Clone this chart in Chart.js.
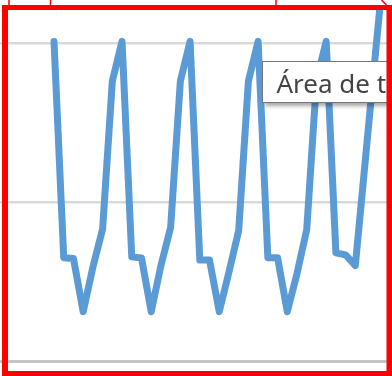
<!DOCTYPE html>
<html><head><meta charset="utf-8">
<script src="https://cdn.jsdelivr.net/npm/chart.js@4"></script>
<style>html,body{margin:0;padding:0;background:#fff;overflow:hidden}#wrap{width:392px;height:376px;position:relative}canvas{display:block}</style>
</head><body><div id="wrap"><canvas id="c" width="392" height="376"></canvas></div>
<script>
// Category positions (index along the x axis) and the series values
const categories = [0,1,2,3,4,5,6,7,8,9,10,11,12,13,14,15,16,17,18,19,20,21,22,23,24,25,26,27,28,29,30,31,32,33,34];
const seriesValues = [
  201, 65, 64.5, 31, 59, 83, 176,
  201, 65.5, 64.8, 31, 60, 84, 176,
  201, 63.5, 63.5, 31, 56, 82, 176,
  201, 65, 65, 31, 55, 82.5, 176,
  201, 68, 66.7, 60, 124.5, 189, 252
];
const yTickValues = [0, 100, 200];
const tooltipLabel = 'Área de trazado';

const pxPerCat = 9.72, firstX = 54;
const xMin = -firstX / pxPerCat, xMax = xMin + 392 / pxPerCat;
const yPxPerUnit = 1.59, plotTop = 8, zeroY = 361;
const yMax = (zeroY - plotTop) / yPxPerUnit;
const yMin = yMax - (376 - plotTop) / yPxPerUnit;

const overlay = {
  id: 'overlay',
  afterDraw(chart) {
    const ctx = chart.ctx;
    ctx.save();
    // tooltip box
    ctx.save();
    ctx.shadowColor = 'rgba(0,0,0,0.35)';
    ctx.shadowBlur = 4; ctx.shadowOffsetX = 2; ctx.shadowOffsetY = 3;
    ctx.fillStyle = '#ffffff';
    ctx.fillRect(262.5, 61.5, 160, 41);
    ctx.restore();
    ctx.strokeStyle = '#767676'; ctx.lineWidth = 1;
    ctx.strokeRect(262.5, 61.5, 160, 41);
    ctx.fillStyle = '#444444';
    ctx.font = '26px "Noto Sans"';
    ctx.textBaseline = 'alphabetic';
    ctx.fillText(tooltipLabel, 276.5, 92.5);
    // red frame
    ctx.fillStyle = '#ff0000';
    ctx.fillRect(2, 5, 390, 5);
    ctx.fillRect(2, 5, 6, 371);
    ctx.fillRect(386.5, 5, 6, 371);
    ctx.fillRect(2, 371, 390, 5);
    ctx.strokeStyle = '#ff0000'; ctx.lineWidth = 1.5;
    ctx.beginPath();
    ctx.moveTo(9, 0); ctx.lineTo(9, 5);
    ctx.moveTo(50.5, 0); ctx.lineTo(50.5, 5);
    ctx.moveTo(276, 0); ctx.lineTo(276, 5);
    ctx.moveTo(381.5, 0); ctx.lineTo(386.5, 5);
    ctx.stroke();
    ctx.restore();
  }
};

new Chart(document.getElementById('c'), {
  type: 'line',
  data: {
    datasets: [{
      data: categories.map((c, i) => ({x: c, y: seriesValues[i]})),
      borderColor: '#5B9BD5',
      borderWidth: 7,
      borderJoinStyle: 'round',
      borderCapStyle: 'round',
      pointRadius: 0,
      tension: 0,
      fill: false,
      clip: {left: 10, right: 10, top: 0, bottom: 10}
    }]
  },
  options: {
    responsive: false,
    animation: false,
    devicePixelRatio: 1,
    layout: {padding: {top: plotTop, left: 0, right: 0, bottom: 0}, autoPadding: false},
    plugins: {legend: {display: false}, tooltip: {enabled: false}},
    scales: {
      x: {
        type: 'linear', min: xMin, max: xMax, display: true,
        grid: {display: false, drawTicks: false},
        border: {display: false},
        ticks: {display: false},
        afterFit(s) { s.height = 0; }
      },
      y: {
        type: 'linear', min: yMin, max: yMax, display: true,
        afterBuildTicks(s) { s.ticks = yTickValues.map(v => ({value: v})); },
        grid: {
          drawTicks: false,
          color: c => (c.tick && c.tick.value === 0) ? '#c4c4c4' : '#d9d9d9',
          lineWidth: c => (c.tick && c.tick.value === 0) ? 3 : 2.5
        },
        border: {display: false},
        ticks: {display: false},
        afterFit(s) { s.width = 0; }
      }
    }
  },
  plugins: [overlay]
});
</script>
</body></html>
